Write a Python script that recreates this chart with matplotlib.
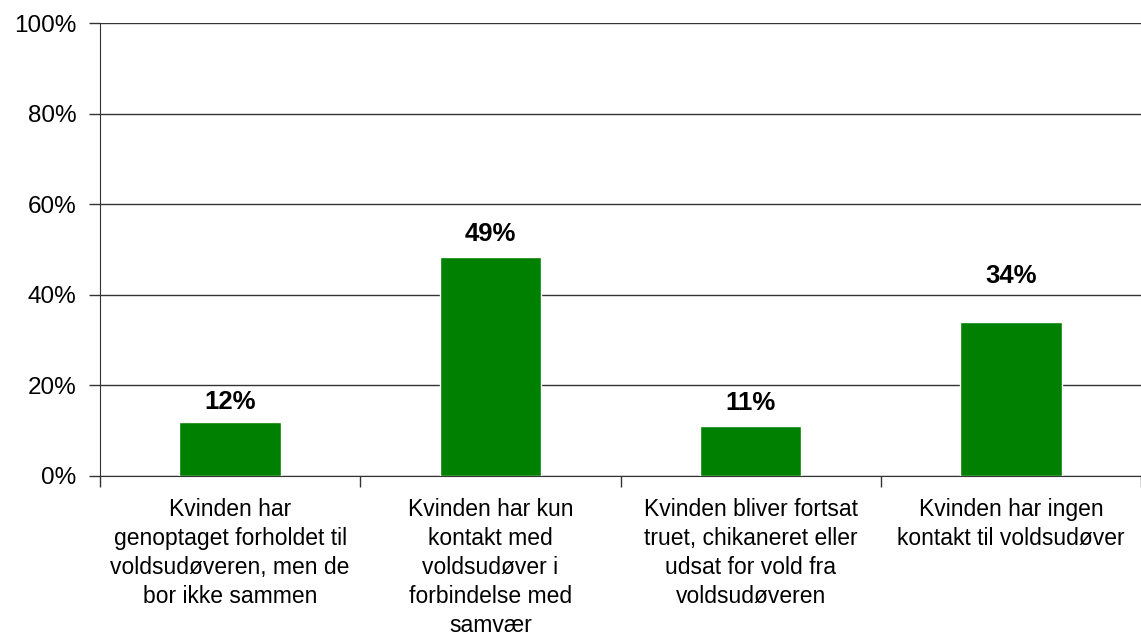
import matplotlib
matplotlib.use("Agg")
import matplotlib.pyplot as plt
from matplotlib.ticker import FixedLocator

categories = [
    "Kvinden har\ngenoptaget forholdet til\nvoldsudøveren, men de\nbor ikke sammen",
    "Kvinden har kun\nkontakt med\nvoldsudøver i\nforbindelse med\nsamvær",
    "Kvinden bliver fortsat\ntruet, chikaneret eller\nudsat for vold fra\nvoldsudøveren",
    "Kvinden har ingen\nkontakt til voldsudøver",
]
values = [11.9, 48.4, 11.1, 34.0]
value_labels = ["12%", "49%", "11%", "34%"]
yticks = [0, 20, 40, 60, 80, 100]
ytick_labels = ["0%", "20%", "40%", "60%", "80%", "100%"]

# label offsets above bars (points) - styling only
label_offsets = [9.5, 11.5, 11.5, 28]

plt.rcParams['font.family'] = ['Liberation Sans', 'DejaVu Sans']

fig = plt.figure(figsize=(11.41, 6.35), dpi=100)
W, H = 1141, 635
ax = fig.add_axes([100 / W, (H - 476) / H, (W - 100) / W, (476 - 23) / H])

x = list(range(len(categories)))
ax.bar(x, values, width=0.39, color='#008000', edgecolor='white', linewidth=1, zorder=3)

for xi, v, lab, off in zip(x, values, value_labels, label_offsets):
    ax.annotate(lab, (xi, v), xytext=(0, off), textcoords='offset points',
                ha='center', va='baseline', fontsize=18.5, fontweight='bold', color='black')

ax.set_xlim(-0.5, len(categories) - 0.5)
ax.set_ylim(0, 100)
ax.set_yticks(yticks)
ax.set_yticklabels(ytick_labels, fontsize=17.5)
ax.yaxis.grid(True, color='#333333', linewidth=1)
ax.set_axisbelow(True)

ax.set_xticks(x)
ax.set_xticklabels(categories, fontsize=16.5, linespacing=1.34, va='top')
ax.tick_params(axis='x', which='major', length=0, pad=15.5)
ax.xaxis.set_minor_locator(FixedLocator([i - 0.5 for i in range(len(categories) + 1)]))
ax.tick_params(axis='x', which='minor', length=8, width=1, color='#333333')
ax.tick_params(axis='y', length=8, width=1, color='#333333', pad=9)

for s in ['top', 'right']:
    ax.spines[s].set_visible(False)
ax.spines['left'].set_color('#333333')
ax.spines['bottom'].set_color('#333333')

fig.savefig('out.png', dpi=100)
